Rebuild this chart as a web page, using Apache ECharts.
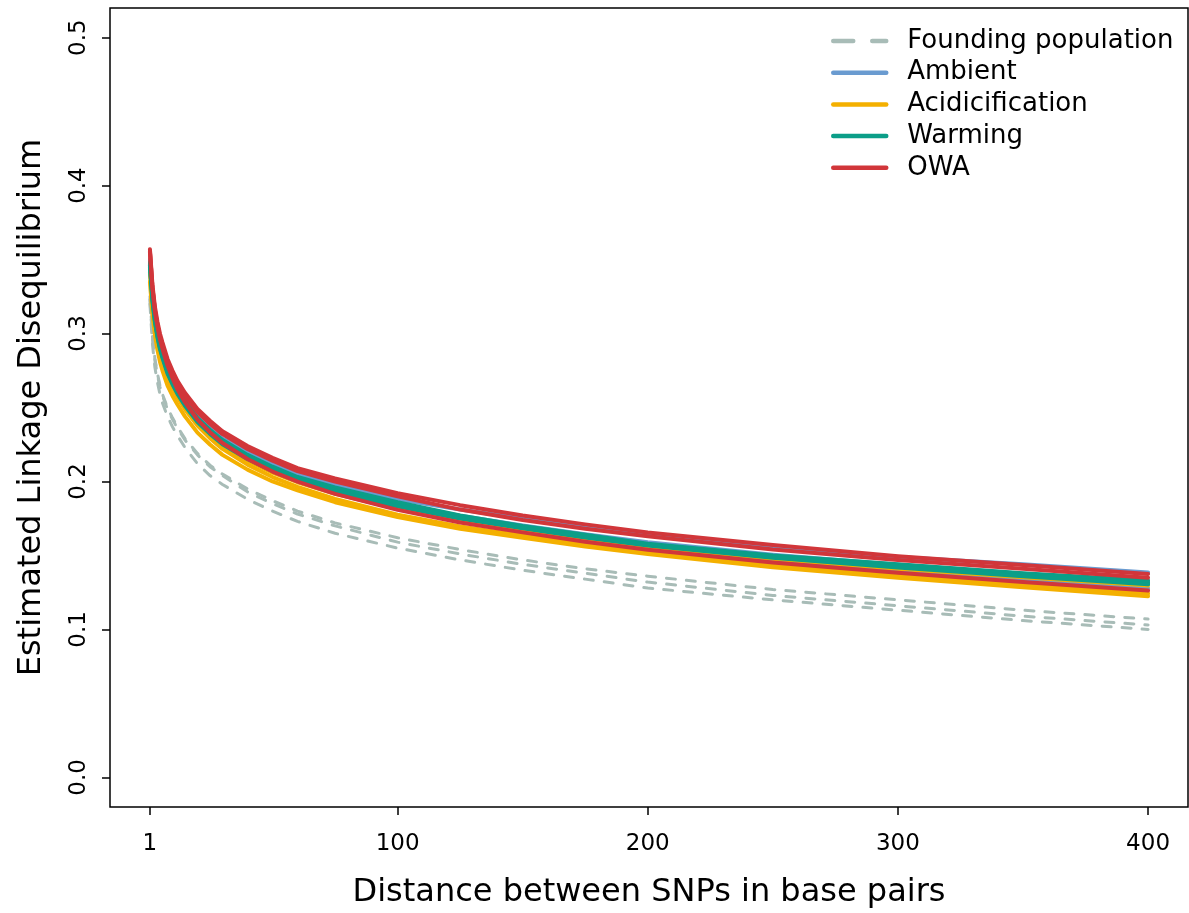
<!DOCTYPE html>
<html>
<head>
<meta charset="utf-8">
<script src="https://cdn.jsdelivr.net/npm/echarts@6/dist/echarts.min.js"></script>
<style>
  html, body { margin: 0; padding: 0; background: #fff; }
  #main { width: 1189px; height: 913px; }
</style>
</head>
<body>
<div id="main"></div>
<script>
const distances = [1, 2, 3, 4, 5, 6, 8, 10, 12, 15, 20, 25, 30, 40, 50, 60, 75, 100, 125, 150, 175, 200, 250, 300, 350, 400];

// founding population (dashed)
const found1 = [0.325, 0.298, 0.283, 0.273, 0.265, 0.259, 0.250, 0.243, 0.237, 0.229, 0.219, 0.211, 0.205, 0.195, 0.187, 0.180, 0.172, 0.162, 0.154, 0.147, 0.141, 0.136, 0.127, 0.120, 0.113, 0.107];
const found2 = [0.323, 0.297, 0.282, 0.272, 0.264, 0.258, 0.249, 0.242, 0.236, 0.228, 0.218, 0.210, 0.204, 0.193, 0.185, 0.178, 0.170, 0.159, 0.151, 0.144, 0.138, 0.132, 0.123, 0.116, 0.109, 0.103];
const found3 = [0.320, 0.293, 0.277, 0.267, 0.259, 0.253, 0.244, 0.237, 0.231, 0.223, 0.212, 0.204, 0.198, 0.188, 0.180, 0.173, 0.165, 0.155, 0.147, 0.140, 0.134, 0.128, 0.120, 0.113, 0.106, 0.100];

// ambient
const amb1 = [0.350, 0.327, 0.312, 0.302, 0.294, 0.288, 0.278, 0.270, 0.263, 0.255, 0.244, 0.236, 0.229, 0.220, 0.212, 0.205, 0.198, 0.188, 0.181, 0.175, 0.169, 0.164, 0.156, 0.149, 0.144, 0.1385];
const amb2 = [0.346, 0.323, 0.3085, 0.2985, 0.2905, 0.2845, 0.274, 0.2665, 0.260, 0.252, 0.241, 0.2329, 0.2258, 0.2157, 0.2076, 0.201, 0.1933, 0.1832, 0.1747, 0.1679, 0.1615, 0.1561, 0.1472, 0.1402, 0.1338, 0.1279];
const amb3 = [0.3471, 0.324, 0.3095, 0.2995, 0.2915, 0.2855, 0.2749, 0.2674, 0.2608, 0.2528, 0.2418, 0.2338, 0.2268, 0.2168, 0.2088, 0.2023, 0.1948, 0.1848, 0.1768, 0.1703, 0.1643, 0.159, 0.1505, 0.1437, 0.1376, 0.1321];

// acidification
const acid1 = [0.3438, 0.321, 0.3066, 0.2966, 0.2886, 0.2826, 0.2722, 0.2648, 0.2584, 0.2504, 0.2394, 0.2313, 0.2242, 0.2141, 0.206, 0.1995, 0.1917, 0.1816, 0.1736, 0.1673, 0.1613, 0.1561, 0.1477, 0.1411, 0.1352, 0.1297];
const acid2 = [0.3416, 0.319, 0.3047, 0.2947, 0.2867, 0.2807, 0.2704, 0.2631, 0.2568, 0.2488, 0.2378, 0.2293, 0.222, 0.2114, 0.203, 0.1964, 0.1882, 0.1776, 0.1696, 0.1635, 0.1575, 0.1525, 0.1435, 0.1366, 0.1302, 0.1243];
const acid3 = [0.335, 0.313, 0.299, 0.289, 0.281, 0.275, 0.265, 0.258, 0.252, 0.244, 0.233, 0.225, 0.218, 0.208, 0.200, 0.194, 0.186, 0.176, 0.168, 0.162, 0.156, 0.151, 0.142, 0.135, 0.1285, 0.1225];

// warming
const warm1 = [0.348, 0.325, 0.310, 0.300, 0.292, 0.286, 0.276, 0.268, 0.262, 0.254, 0.243, 0.235, 0.228, 0.218, 0.210, 0.203, 0.196, 0.186, 0.177, 0.170, 0.164, 0.158, 0.150, 0.144, 0.138, 0.133];
const warm2 = [0.346, 0.323, 0.3085, 0.2985, 0.2905, 0.2845, 0.274, 0.2665, 0.260, 0.252, 0.241, 0.233, 0.226, 0.216, 0.208, 0.2015, 0.194, 0.184, 0.1757, 0.1691, 0.1629, 0.1575, 0.1493, 0.1427, 0.1369, 0.1315];
const warm3 = [0.345, 0.322, 0.3075, 0.2975, 0.2895, 0.2835, 0.2731, 0.2657, 0.2592, 0.2512, 0.2402, 0.2322, 0.2252, 0.2152, 0.2072, 0.2008, 0.1932, 0.1832, 0.1749, 0.1683, 0.1622, 0.1568, 0.1485, 0.1419, 0.136, 0.1305];

// OWA
const owa1 = [0.357, 0.333, 0.318, 0.308, 0.300, 0.294, 0.283, 0.275, 0.268, 0.260, 0.249, 0.241, 0.234, 0.224, 0.216, 0.209, 0.202, 0.192, 0.184, 0.177, 0.171, 0.1655, 0.157, 0.1495, 0.1435, 0.1375];
const owa2 = [0.355, 0.331, 0.316, 0.306, 0.298, 0.292, 0.281, 0.273, 0.266, 0.258, 0.247, 0.239, 0.232, 0.222, 0.214, 0.207, 0.200, 0.190, 0.181, 0.174, 0.168, 0.163, 0.154, 0.147, 0.141, 0.135];
const owa3 = [0.3559, 0.331, 0.3152, 0.3048, 0.2962, 0.2898, 0.2785, 0.2699, 0.2624, 0.2536, 0.2418, 0.2333, 0.226, 0.2152, 0.2067, 0.1999, 0.1916, 0.1808, 0.1723, 0.1656, 0.1593, 0.1539, 0.1452, 0.1383, 0.1321, 0.1263];

const xTicks = [1, 100, 200, 300, 400];
const yTicks = [0, 0.1, 0.2, 0.3, 0.4, 0.5];

const groups = [
  { name: 'Founding population', color: '#a8bcb7', lines: [found1, found2, found3], dashed: true },
  { name: 'Ambient', color: '#6a9bd0', lines: [amb1, amb2, amb3] },
  { name: 'Acidicification', color: '#f4b000', lines: [acid1, acid2, acid3] },
  { name: 'Warming', color: '#0b9e88', lines: [warm1, warm2, warm3] },
  { name: 'OWA', color: '#d1363a', lines: [owa1, owa2, owa3] }
];

const FONT = 'DejaVu Sans';

// 每条曲线一个series，同组同名共享图例
const series = [];
groups.forEach(g => {
  g.lines.forEach(vals => {
    series.push({
      name: g.name,
      type: 'line',
      data: distances.map((d, i) => [d, vals[i]]),
      symbol: 'none',
      silent: true,
      color: g.color,
      lineStyle: g.dashed
        ? { color: g.color, width: 3, type: [9, 11], cap: 'round', join: 'round' }
        : { color: g.color, width: 4, cap: 'round', join: 'round' }
    });
  });
});

const chart = echarts.init(document.getElementById('main'));
const option = {
  animation: false,
  backgroundColor: '#fff',
  grid: {
    left: 110, right: 1, top: 8, bottom: 106,
    containLabel: false,
    outerBoundsMode: 'none',
    show: true, borderColor: '#000', borderWidth: 1.5, backgroundColor: 'transparent'
  },
  legend: {
    orient: 'vertical',
    left: 826,
    top: 23,
    itemWidth: 53,
    itemHeight: 24,
    itemGap: 5.7,
    textStyle: { fontFamily: FONT, fontSize: 26, lineHeight: 24, color: '#000', padding: [0, 0, 0, 16] },
    data: groups.map(g => ({
      name: g.name,
      itemStyle: { color: 'rgba(0,0,0,0)', borderWidth: 0, opacity: 0 },
      lineStyle: g.dashed
        ? { width: 4.5, type: [20, 19], cap: 'round', color: g.color }
        : { width: 4.5, cap: 'round', color: g.color }
    }))
  },
  xAxis: {
    type: 'value',
    min: -14.96,
    max: 415.96,
    name: 'Distance between SNPs in base pairs',
    nameLocation: 'middle',
    nameGap: 70,
    nameTextStyle: { fontFamily: FONT, fontSize: 32, color: '#000' },
    splitLine: { show: false },
    axisLine: { show: false, onZero: false },
    axisTick: { show: true, length: 8, lineStyle: { color: '#000', width: 1.5 }, customValues: xTicks },
    axisLabel: { fontFamily: FONT, fontSize: 23, color: '#000', margin: 26, customValues: xTicks }
  },
  yAxis: {
    type: 'value',
    min: -0.02,
    max: 0.52,
    name: 'Estimated Linkage Disequilibrium',
    nameLocation: 'middle',
    nameGap: 62,
    nameRotate: 90,
    nameTextStyle: { fontFamily: FONT, fontSize: 32, color: '#000' },
    splitLine: { show: false },
    axisLine: { show: false, onZero: false },
    axisTick: { show: true, length: 8, lineStyle: { color: '#000', width: 1.5 }, customValues: yTicks },
    axisLabel: {
      fontFamily: FONT, fontSize: 23, color: '#000', margin: 19, rotate: 90,
      customValues: yTicks,
      formatter: v => v.toFixed(1)
    }
  },
  series: series
};
chart.setOption(option);
</script>
</body>
</html>
